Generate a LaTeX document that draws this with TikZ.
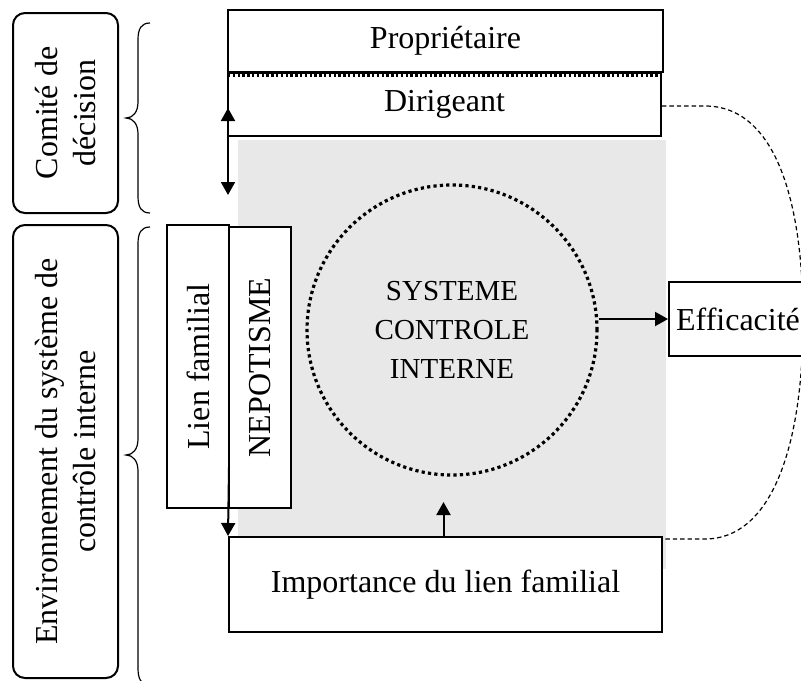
\documentclass[tikz,border=0pt]{standalone}
\usepackage{fontspec}
\setmainfont{Liberation Serif}
\usetikzlibrary{arrows.meta,calc}
\begin{document}
\begin{tikzpicture}[x=0.5pt,y=-0.5pt,
  box/.style={draw,line width=1pt,fill=white,inner sep=0pt,font=\fontsize{16}{19}\selectfont,align=center},
  rbox/.style={box,rounded corners=6pt},
  arr/.style={line width=1pt,-{Triangle[length=6.5pt,width=7pt]}},
  brace/.style={line width=0.6pt},
  link/.style={line width=0.6pt,dash pattern=on 2.2pt off 1.5pt}]
\useasboundingbox (0,0) rectangle (801,680);
% grey background
\fill[black!9] (238,140) rectangle (666,569);
% left panels
\node[rbox,rotate=90,minimum width=100pt,minimum height=52.5pt] (comite) at (65.5,113) {Comité de\\décision};
\node[rbox,rotate=90,minimum width=226.5pt,minimum height=52.5pt] (env) at (65.5,451.5) {Environnement du système de\\contrôle interne};
% braces
\draw[brace] (150,23) .. controls (141,23) and (138,29) .. (138,40) -- (138,102)
  .. controls (138,112) and (133,118) .. (126,118)
  .. controls (133,118) and (138,124) .. (138,134) -- (138,196)
  .. controls (138,207) and (141,213) .. (150,213);
\draw[brace] (150,227) .. controls (141,227) and (138,233) .. (138,244) -- (138,439)
  .. controls (138,449) and (133,455) .. (126,455)
  .. controls (133,455) and (138,461) .. (138,471) -- (138,668)
  .. controls (138,679) and (141,685) .. (150,685);
% top boxes
\node[box,minimum width=217.5pt,minimum height=31pt] (prop) at (445.5,41) {Propriétaire};
\node[box,minimum width=216.5pt,minimum height=31.5pt] (dir) at (444.5,104.5) {Dirigeant};
\draw[line width=1.6pt,dash pattern=on 1.2pt off 1.2pt] ($(dir.north west)+(1,3)$) -- ($(dir.north east)+(-1,3)$);
% central circle
\node[circle,draw,line width=1.6pt,dash pattern=on 1.6pt off 1.6pt,minimum size=145pt,align=center,inner sep=0pt,font=\fontsize{14.5}{19.5}\selectfont] (circ) at (452,330) {SYSTEME\\CONTROLE\\INTERNE};
% efficacite
\node[box,minimum width=69pt,minimum height=37pt] (eff) at (738,319) {Efficacité};
% lien / nepotisme
\node[box,rotate=90,minimum width=141.5pt,minimum height=31pt] (lien) at (198,366.5) {Lien familial};
\node[box,rotate=90,minimum width=140.5pt,minimum height=31pt] (nep) at (260,367.5) {NEPOTISME};
% importance
\node[box,minimum width=216.5pt,minimum height=47.5pt] (imp) at (445.5,584.5) {Importance du lien familial};
% connectors
\coordinate (dA) at (228,108);
\coordinate (dB) at (228,195);
\draw[line width=1pt,{Triangle[length=6.5pt,width=7pt]}-{Triangle[length=6.5pt,width=7pt]}] (dA) -- (dB);
\coordinate (nb) at (229,467);
\draw[arr] (nb) -- (imp.north west);
\draw[arr] ([xshift=-1]imp.north) -- ++(0,-34);
\draw[arr] (circ.east |- eff.west) -- (eff.west);
\coordinate (c1) at (705,106);
\coordinate (c2) at (705,539);
\draw[link] (dir.east |- c1) -- (c1) .. controls (775,106) and (803,200) .. (803,320)
  .. controls (803,450) and (770,539) .. (c2) -- (imp.north east |- c2);
\end{tikzpicture}
\end{document}
